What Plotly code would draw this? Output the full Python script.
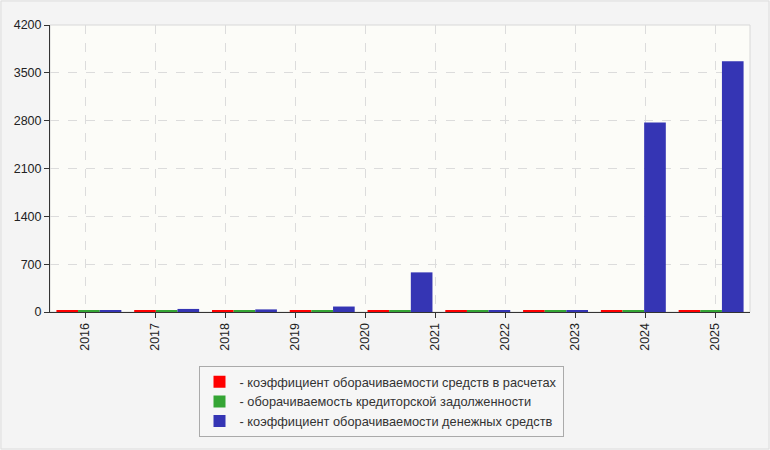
import plotly.graph_objects as go

# Axis labels (10 years) and the three series (9 groups drawn in the source chart)
years = ["2016", "2017", "2018", "2019", "2020", "2021", "2022", "2023", "2024", "2025"]
names = [
    "- коэффициент оборачиваемости средств в расчетах",
    "- оборачиваемость кредиторской задолженности",
    "- коэффициент оборачиваемости денежных средств",
]
receivables = [25, 25, 25, 25, 25, 25, 25, 25, 25]
payables = [25, 25, 25, 25, 25, 25, 25, 25, 25]
cash = [25, 45, 38, 80, 580, 22, 20, 2775, 3670]
colors = ["#ff0000", "#35a535", "#3535b4"]

W, H = 770, 450
ML, MR, MT, MB = 50, 20, 25, 138
pw, ph = W - ML - MR, H - MT - MB

fig = go.Figure()
for name, vals, col in zip(names, [receivables, payables, cash], colors):
    fig.add_trace(go.Bar(x=years[:len(vals)], y=vals, name=name, marker_color=col,
                         marker_line_width=0))

# invisible helper so the label axis gets drawn
fig.add_trace(go.Scatter(x=list(range(len(years))), y=[0] * len(years), xaxis="x2",
                         mode="markers", marker_opacity=0, showlegend=False,
                         hoverinfo="skip"))

fig.update_layout(
    width=W, height=H,
    margin=dict(l=ML, r=MR, t=MT, b=MB),
    paper_bgcolor="#f4f4f4",
    plot_bgcolor="#fcfcf8",
    font=dict(family="Liberation Sans, Arial, sans-serif", size=12.5, color="#222"),
    barmode="group",
    bargap=0.165,
    bargroupgap=0,
    xaxis=dict(type="category", range=[-0.5, 8.5], showticklabels=False, ticks="",
               showgrid=False, showline=True, linecolor="#333", linewidth=1,
               zeroline=False, fixedrange=True),
    xaxis2=dict(overlaying="x", anchor="y", side="bottom", range=[-0.5, 9.5],
                tickvals=list(range(len(years))), ticktext=years, tickangle=-90,
                ticks="outside", ticklen=5, tickcolor="#333", showline=False,
                showgrid=True, gridcolor="#dcdcdc", griddash="dash", zeroline=False),
    yaxis=dict(range=[0, 4200], dtick=700, ticks="outside", ticklen=5, tickcolor="#333",
               showline=True, linecolor="#333", linewidth=1, showgrid=True,
               gridcolor="#dcdcdc", griddash="dash", zeroline=False),
    legend=dict(x=(381 - ML) / pw, xanchor="center", y=(MT + ph - 366) / ph, yanchor="top",
                bgcolor="#f6f6f6", bordercolor="#aaaaaa", borderwidth=1,
                font=dict(size=12.8, color="#333"), tracegroupgap=0, itemwidth=30),
    showlegend=True,
)

# light frame on plot area and outer frame
fig.add_shape(type="rect", xref="x domain", yref="y domain", x0=0, x1=1, y0=0, y1=1,
              line=dict(color="#d8d8d8", width=1), layer="below")
fig.add_shape(type="rect", xref="paper", yref="paper",
              x0=(1 - ML) / pw, x1=(W - 1 - ML) / pw,
              y0=(MT + ph - (H - 1)) / ph, y1=(MT + ph - 1) / ph,
              line=dict(color="#dddddd", width=1), layer="below")

# drop the default page margin so the figure sits at the window corner
fig.write_html("out.html", config={"displayModeBar": False},
               post_script="document.body.style.margin='0px';")
